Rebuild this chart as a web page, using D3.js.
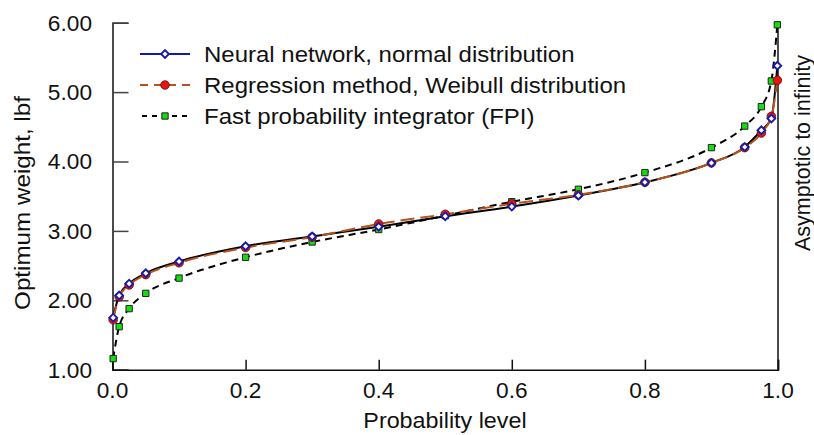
<!DOCTYPE html>
<html><head><meta charset="utf-8">
<script src="https://cdn.jsdelivr.net/npm/d3@7"></script>
<style>
html,body{margin:0;padding:0;background:#fff;}
text{font-family:"Liberation Sans",Arial,sans-serif;fill:#111;}
</style></head>
<body><svg id="c" width="814" height="435"></svg>
<script>
// probability levels
const probs = [0.001, 0.01, 0.025, 0.05, 0.1, 0.2, 0.3, 0.4, 0.5, 0.6, 0.7, 0.8, 0.9, 0.95, 0.975, 0.99, 0.999];
// Neural network, normal distribution
const neural = [1.75, 2.07, 2.24, 2.39, 2.56, 2.78, 2.92, 3.06, 3.21, 3.35, 3.51, 3.70, 3.98, 4.21, 4.45, 4.62, 5.38];
// Regression method, Weibull distribution
const regression = [1.72, 2.05, 2.22, 2.37, 2.54, 2.76, 2.91, 3.10, 3.24, 3.39, 3.52, 3.70, 3.98, 4.20, 4.41, 4.65, 5.17];
// Fast probability integrator (FPI)
const fpi = [1.16, 1.62, 1.88, 2.10, 2.32, 2.62, 2.84, 3.02, 3.22, 3.42, 3.60, 3.84, 4.20, 4.51, 4.79, 5.16, 5.97];

const xTicks = [0, 0.2, 0.4, 0.6, 0.8, 1.0];
const yTicks = [1, 2, 3, 4, 5, 6];
const seriesNames = ["Neural network, normal distribution", "Regression method, Weibull distribution", "Fast probability integrator (FPI)"];
const xLabel = "Probability level";
const yLabel = "Optimum weight, lbf";
const rightLabel = "Asymptotic to infinity";

const svg = d3.select("#c");
const x = d3.scaleLinear().domain([0, 1]).range([112.5, 778]);
const y = d3.scaleLinear().domain([1, 6]).range([369.7, 22.7]);
const FS = 22;
function stretch(sel, k) {
  sel.each(function () {
    const len = this.getComputedTextLength();
    d3.select(this).attr("textLength", len * k).attr("lengthAdjust", "spacingAndGlyphs");
  });
  return sel;
}

// axes
const yAxis = svg.append("g").attr("transform", `translate(${x(0)},0)`)
  .call(d3.axisRight(y).tickValues(yTicks).tickSize(16).tickFormat(() => ""));
yAxis.select(".domain").attr("stroke", "#111").attr("stroke-width", 1.5);
yAxis.selectAll(".tick line").attr("stroke", "#444").attr("stroke-width", 1.5);
yTicks.forEach(v => {
  stretch(svg.append("text").attr("x", 92).attr("y", y(v)).attr("dy", "0.36em")
    .attr("text-anchor", "end").attr("font-size", FS).text(d3.format(".2f")(v)), 1.03);
});

const xAxis = svg.append("g").attr("transform", `translate(0,${y(1)})`)
  .call(d3.axisTop(x).tickValues(xTicks).tickSize(10).tickFormat(() => ""));
xAxis.select(".domain").attr("stroke", "#111").attr("stroke-width", 1.5);
xAxis.selectAll(".tick line").attr("stroke", "#111").attr("stroke-width", 1.5);
xTicks.forEach(v => {
  stretch(svg.append("text").attr("x", x(v)).attr("y", 398)
    .attr("text-anchor", "middle").attr("font-size", FS).text(d3.format(".1f")(v)), 1.03);
});

// right asymptote line
svg.append("line").attr("x1", x(1)).attr("x2", x(1)).attr("y1", y(6)).attr("y2", y(1))
  .attr("stroke", "#111").attr("stroke-width", 1.5);

stretch(svg.append("text").attr("x", 445).attr("y", 428).attr("text-anchor", "middle")
  .attr("font-size", FS).text(xLabel), 1.06);
stretch(svg.append("text").attr("transform", "translate(30,203) rotate(-90)")
  .attr("text-anchor", "middle").attr("font-size", FS).text(yLabel), 1.1);
stretch(svg.append("text").attr("transform", "translate(810,153) rotate(-90)")
  .attr("text-anchor", "middle").attr("font-size", 21.5).text(rightLabel), 1.0);

const line = d3.line().x(d => x(d[0])).y(d => y(d[1])).curve(d3.curveMonotoneX);
const zip = arr => probs.map((p, i) => [p, arr[i]]);

// lines
svg.append("path").datum(zip(fpi)).attr("d", line).attr("fill", "none")
  .attr("stroke", "#000").attr("stroke-width", 2).attr("stroke-dasharray", "7,5");
svg.append("path").datum(zip(neural)).attr("d", line).attr("fill", "none")
  .attr("stroke", "#000").attr("stroke-width", 2);
svg.append("path").datum(zip(regression)).attr("d", line).attr("fill", "none")
  .attr("stroke", "#b4531e").attr("stroke-width", 2).attr("stroke-dasharray", "14,6");

const diamond = d3.symbol().type(d3.symbolSquare).size(30);
const square = d3.symbol().type(d3.symbolSquare).size(40);

function squares(g, data) {
  g.selectAll(null).data(data).enter().append("path").attr("d", square)
    .attr("transform", d => `translate(${x(d[0])},${y(d[1])})`)
    .attr("fill", "#11dd11").attr("stroke", "#222").attr("stroke-width", 1);
}
function circles(g, data) {
  g.selectAll(null).data(data).enter().append("circle")
    .attr("cx", d => x(d[0])).attr("cy", d => y(d[1])).attr("r", 4.3)
    .attr("fill", "#ee1111").attr("stroke", "#551111").attr("stroke-width", 0.8);
}
function diamonds(g, data) {
  g.selectAll(null).data(data).enter().append("path").attr("d", diamond)
    .attr("transform", d => `translate(${x(d[0])},${y(d[1])}) rotate(45)`)
    .attr("fill", "#fff").attr("stroke", "#1a1aa8").attr("stroke-width", 1.9);
}
squares(svg.append("g"), zip(fpi));
circles(svg.append("g"), zip(regression));
diamonds(svg.append("g"), zip(neural));

// legend
const lg = svg.append("g");
const rows = [54, 85, 116];
lg.append("line").attr("x1", 140).attr("x2", 190).attr("y1", rows[0]).attr("y2", rows[0])
  .attr("stroke", "#1a1aa8").attr("stroke-width", 2);
diamonds(lg, [[x.invert(165), y.invert(rows[0])]]);
lg.append("line").attr("x1", 140).attr("x2", 190).attr("y1", rows[1]).attr("y2", rows[1])
  .attr("stroke", "#b4531e").attr("stroke-width", 2).attr("stroke-dasharray", "8,6");
circles(lg, [[x.invert(165), y.invert(rows[1])]]);
lg.append("line").attr("x1", 142).attr("x2", 190).attr("y1", rows[2]).attr("y2", rows[2])
  .attr("stroke", "#000").attr("stroke-width", 2).attr("stroke-dasharray", "5,5");
squares(lg, [[x.invert(165), y.invert(rows[2])]]);
seriesNames.forEach((n, i) => {
  stretch(lg.append("text").attr("x", 204).attr("y", rows[i]).attr("dy", "0.36em")
    .attr("font-size", FS).text(n), 1.09);
});
</script></body></html>
